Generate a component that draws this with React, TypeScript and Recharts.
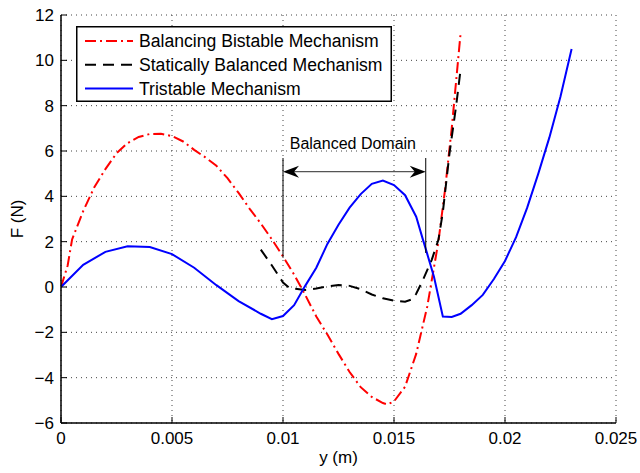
import React from 'react';
import { LineChart, Line, XAxis, YAxis, CartesianGrid, ReferenceLine, Legend } from 'recharts';

const FONT = '"Liberation Sans", Arial, Helvetica, sans-serif';

const xTicks = [0, 0.005, 0.01, 0.015, 0.02, 0.025];
const yTicks = [-6, -4, -2, 0, 2, 4, 6, 8, 10, 12];

// Balancing Bistable Mechanism (red dash-dot)
const bistableY = [0, 0.0003, 0.0005, 0.001, 0.0015, 0.002, 0.0025, 0.003, 0.0035, 0.004, 0.0045, 0.005, 0.0055, 0.006, 0.0065, 0.007, 0.0075, 0.008, 0.0085, 0.009, 0.0095, 0.01, 0.0105, 0.011, 0.0115, 0.012, 0.0125, 0.013, 0.0135, 0.014, 0.0145, 0.0147, 0.015, 0.0155, 0.016, 0.0165, 0.017, 0.0173, 0.0176, 0.018];
const bistableF = [0, 0.95, 2.1, 3.35, 4.4, 5.2, 5.9, 6.35, 6.62, 6.75, 6.76, 6.66, 6.42, 6.05, 5.72, 5.35, 4.8, 4.15, 3.45, 2.8, 2.1, 1.35, 0.55, -0.35, -1.3, -2.1, -2.95, -3.75, -4.42, -4.85, -5.12, -5.18, -5.05, -4.4, -2.95, -0.85, 2.0, 4.3, 7.0, 11.2];

// Statically Balanced Mechanism (black dashed)
const staticY = [0.009, 0.0095, 0.01, 0.0103, 0.011, 0.0115, 0.012, 0.0125, 0.013, 0.0135, 0.014, 0.0145, 0.015, 0.0155, 0.0158, 0.016, 0.0163, 0.0167, 0.017, 0.0172, 0.0175, 0.0178, 0.018];
const staticF = [1.65, 0.95, 0.2, -0.05, -0.13, -0.07, 0.03, 0.09, 0.05, -0.1, -0.33, -0.5, -0.6, -0.65, -0.55, -0.3, 0.3, 1.2, 2.08, 3.3, 5.9, 8.0, 9.6];

// Tristable Mechanism (blue solid)
const tristableY = [0, 0.001, 0.002, 0.003, 0.004, 0.005, 0.006, 0.007, 0.008, 0.009, 0.0095, 0.01, 0.0105, 0.011, 0.0115, 0.012, 0.0125, 0.013, 0.0135, 0.014, 0.0145, 0.015, 0.0155, 0.016, 0.0163, 0.0165, 0.0168, 0.0172, 0.0176, 0.018, 0.0185, 0.019, 0.0195, 0.02, 0.0205, 0.021, 0.0215, 0.022, 0.0225, 0.023];
const tristableF = [0, 0.98, 1.55, 1.8, 1.76, 1.45, 0.85, 0.08, -0.62, -1.18, -1.42, -1.28, -0.8, 0.05, 0.85, 1.9, 2.75, 3.5, 4.1, 4.55, 4.7, 4.5, 4.05, 3.1, 2.1, 1.45, 0.45, -1.3, -1.32, -1.18, -0.8, -0.35, 0.35, 1.15, 2.2, 3.5, 5.0, 6.6, 8.4, 10.5];

// Balanced domain annotation
const domainStart = 0.01;
const domainEnd = 0.01643;
const arrowF = 5.09;
const leftBarF = [1.29, 5.69];
const rightBarF = [1.5, 5.69];
const annotationText = 'Balanced Domain';

const toRows = (xs: number[], ys: number[]) => xs.map((x, i) => ({ x, f: ys[i] }));

const series = [
  { name: 'Balancing Bistable Mechanism', rows: toRows(bistableY, bistableF), color: '#ff0000', dash: '11 4 2 4' },
  { name: 'Statically Balanced Mechanism', rows: toRows(staticY, staticF), color: '#000000', dash: '11 7' },
  { name: 'Tristable Mechanism', rows: toRows(tristableY, tristableF), color: '#0000ff', dash: undefined as string | undefined },
];

const fmt = (v: number) => (v < 0 ? '\u2212' + Math.abs(v) : String(v));

const TICK_LEN = 6;
const X_MARGIN = 10;
const Y_MARGIN = 7;

const BottomTick = (p: any) => {
  const { x, y, payload } = p;
  const axisY = y - X_MARGIN;
  return (
    <g>
      <line x1={x} x2={x} y1={axisY} y2={axisY - TICK_LEN} stroke="#000" strokeWidth={1} />
      <text x={x} y={axisY + 21} textAnchor="middle" fontSize={17} fontFamily={FONT} fill="#000">
        {fmt(payload.value)}
      </text>
    </g>
  );
};

const LeftTick = (p: any) => {
  const { x, y, payload } = p;
  const axisX = x + Y_MARGIN;
  return (
    <g>
      <line x1={axisX} x2={axisX + TICK_LEN} y1={y} y2={y} stroke="#000" strokeWidth={1} />
      <text x={x} y={y + 6} textAnchor="end" fontSize={17} fontFamily={FONT} fill="#000">
        {fmt(payload.value)}
      </text>
    </g>
  );
};

const ArrowShape = (p: any) => {
  const { x1, y1, x2, y2 } = p;
  const y = (y1 + y2) / 2;
  const a = Math.min(x1, x2);
  const b = Math.max(x1, x2);
  return (
    <g>
      <line x1={a + 8} x2={b - 8} y1={y} y2={y} stroke="#555" strokeWidth={1.2} />
      <polygon points={`${a},${y} ${a + 16},${y - 6} ${a + 11},${y} ${a + 16},${y + 6}`} fill="#000" />
      <polygon points={`${b},${y} ${b - 16},${y - 6} ${b - 11},${y} ${b - 16},${y + 6}`} fill="#000" />
      <text x={(a + b) / 2 - 1.5} y={y - 22.5} textAnchor="middle" fontSize={16} fontFamily={FONT} fill="#000">
        {annotationText}
      </text>
    </g>
  );
};

const LegendBox = () => (
  <svg width={316} height={76} style={{ display: 'block' }}>
    <rect x={0.75} y={0.75} width={314.5} height={74.5} fill="#fff" stroke="#000" strokeWidth={1.5} />
    {series.map((s, i) => {
      const cy = 15 + i * 23.7;
      return (
        <g key={s.name}>
          <line x1={9} x2={57} y1={cy} y2={cy} stroke={s.color} strokeWidth={2} strokeDasharray={s.dash} />
          <text x={63} y={cy + 6.3} fontSize={17.6} fontFamily={FONT} fill="#000">
            {s.name}
          </text>
        </g>
      );
    })}
  </svg>
);

const YLabel = (p: any) => {
  const vb = p.viewBox || { x: 1, y: 15, width: 60, height: 408 };
  const cx = 17;
  const cy = vb.y + vb.height / 2;
  return (
    <text x={cx} y={cy} transform={`rotate(-90 ${cx} ${cy})`} textAnchor="middle" dominantBaseline="central" fontSize={17} fontFamily={FONT} fill="#000">
      F (N)
    </text>
  );
};

export default function App() {
  return (
    <div style={{ position: 'absolute', left: 0, top: 0, width: 640, height: 473, background: '#fff' }}>
      <LineChart width={640} height={473} margin={{ top: 15, right: 24, bottom: 0, left: 1 }}>
        <CartesianGrid stroke="#444" strokeDasharray="1 4" strokeWidth={1} />
        <XAxis
          dataKey="x"
          type="number"
          domain={[0, 0.025]}
          ticks={xTicks}
          allowDataOverflow
          height={50}
          tickSize={0}
          tickMargin={X_MARGIN}
          tickLine={false}
          axisLine={{ stroke: '#000', strokeWidth: 1.5 }}
          tick={<BottomTick />}
          label={{ value: 'y (m)', position: 'insideBottom', offset: 10, fontSize: 17, fontFamily: FONT, fill: '#000' }}
        />
        <YAxis
          type="number"
          domain={[-6, 12]}
          ticks={yTicks}
          allowDataOverflow
          width={60}
          tickSize={0}
          tickMargin={Y_MARGIN}
          tickLine={false}
          axisLine={{ stroke: '#000', strokeWidth: 1.5 }}
          tick={<LeftTick />}
          label={{ content: YLabel }}
        />
        <XAxis
          xAxisId="top"
          orientation="top"
          type="number"
          domain={[0, 0.025]}
          ticks={xTicks}
          allowDataOverflow
          height={0}
          mirror
          tickSize={TICK_LEN}
          tick={false}
          tickLine={{ stroke: '#000' }}
          axisLine={{ stroke: '#000', strokeWidth: 1.5 }}
        />
        <YAxis
          yAxisId="right"
          orientation="right"
          type="number"
          domain={[-6, 12]}
          ticks={yTicks}
          allowDataOverflow
          width={0}
          mirror
          tickSize={TICK_LEN}
          tick={false}
          tickLine={{ stroke: '#000' }}
          axisLine={{ stroke: '#000', strokeWidth: 1.5 }}
        />
        {series.map((s) => (
          <Line
            key={s.name}
            data={s.rows}
            dataKey="f"
            name={s.name}
            type="linear"
            stroke={s.color}
            strokeWidth={2}
            strokeDasharray={s.dash}
            dot={false}
            activeDot={false}
            isAnimationActive={false}
          />
        ))}
        <ReferenceLine segment={[{ x: domainStart, y: leftBarF[0] }, { x: domainStart, y: leftBarF[1] }]} stroke="#000" strokeWidth={1} />
        <ReferenceLine segment={[{ x: domainEnd, y: rightBarF[0] }, { x: domainEnd, y: rightBarF[1] }]} stroke="#000" strokeWidth={1} />
        <ReferenceLine segment={[{ x: domainStart, y: arrowF }, { x: domainEnd, y: arrowF }]} shape={ArrowShape} />
        <Legend
          layout="vertical"
          align="center"
          verticalAlign="middle"
          wrapperStyle={{ position: 'absolute', left: 76, top: 26, width: 316, height: 76 }}
          content={() => <LegendBox />}
        />
      </LineChart>
    </div>
  );
}
